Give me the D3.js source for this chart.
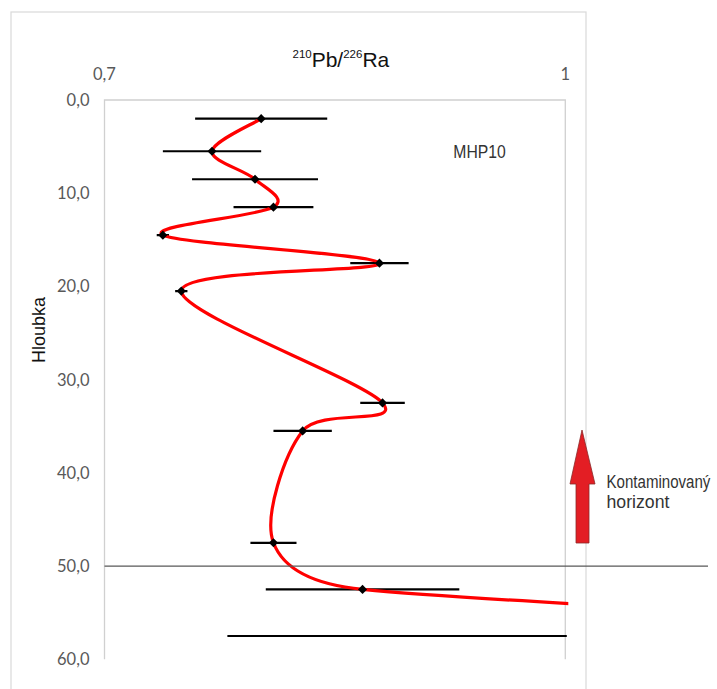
<!DOCTYPE html>
<html><head><meta charset="utf-8">
<script src="https://cdn.jsdelivr.net/npm/d3@7"></script>
<style>body{margin:0;background:#fff}svg{display:block}</style>
</head><body>
<svg id="c" width="717" height="689"></svg>
<script>
const depths = [2.0, 5.5, 8.5, 11.5, 14.5, 17.5, 20.5, 32.5, 35.5, 47.5, 52.5, 57.5];
const ratios = [0.802, 0.770, 0.798, 0.810, 0.738, 0.879, 0.750, 0.881, 0.829, 0.810, 0.868, 1.43];
const errors = [0.043, 0.032, 0.041, 0.026, 0.004, 0.019, 0.004, 0.0145, 0.019, 0.015, 0.063, 0.65];
const yTicks = [0, 10, 20, 30, 40, 50, 60];
const xTicks = [0.7, 1];
const sampleLabel = "MHP10";
const horizonDepth = 50;
const arrowLabel = ["Kontaminovaný", "horizont"];

const svg = d3.select("#c");
const L = 104.5, R = 565.3, T = 100, B = 659.3;
const x = d3.scaleLinear().domain([0.7, 1]).range([L, R]);
const y = d3.scaleLinear().domain([0, 60]).range([T, B]);

// Spreadsheet-style smoothing: Bezier with 1/6 tangents, capped at half the segment length
function curveSmooth(context) {
  let pts;
  return {
    areaStart() {}, areaEnd() {},
    lineStart() { pts = []; },
    point(px, py) { pts.push([+px, +py]); },
    lineEnd() {
      const n = pts.length;
      if (!n) return;
      context.moveTo(pts[0][0], pts[0][1]);
      for (let i = 0; i < n - 1; i++) {
        const p0 = pts[Math.max(i - 1, 0)], p1 = pts[i], p2 = pts[i + 1], p3 = pts[Math.min(i + 2, n - 1)];
        const d12 = Math.hypot(p2[0] - p1[0], p2[1] - p1[1]);
        const d02 = Math.hypot(p2[0] - p0[0], p2[1] - p0[1]);
        const d13 = Math.hypot(p3[0] - p1[0], p3[1] - p1[1]);
        let f1 = 1 / 6, f2 = 1 / 6;
        if (d02 * f1 > d12 / 2) f1 = d12 / (2 * d02);
        if (d13 * f2 > d12 / 2) f2 = d12 / (2 * d13);
        context.bezierCurveTo(
          p1[0] + f1 * (p2[0] - p0[0]), p1[1] + f1 * (p2[1] - p0[1]),
          p2[0] - f2 * (p3[0] - p1[0]), p2[1] - f2 * (p3[1] - p1[1]),
          p2[0], p2[1]);
      }
    }
  };
}

// outer chart frame
svg.append("rect").attr("x", 11).attr("y", 12).attr("width", 575).attr("height", 720)
  .attr("fill", "none").attr("stroke", "#d9d9d9").attr("stroke-width", 1.2);

// plot area border (left, top, right)
svg.append("path").attr("d", `M${L},${B}V${T}H${R}V${B}`)
  .attr("fill", "none").attr("stroke", "#d0d0d0").attr("stroke-width", 1.3);

// Y tick labels
const fmt = d => d.toFixed(1).replace(".", ",");
svg.append("g").selectAll("text").data(yTicks).join("text")
  .attr("x", 89.5).attr("y", d => y(d)).attr("dy", "0.36em")
  .attr("text-anchor", "end").attr("font-family", "Lato, 'Open Sans', sans-serif")
  .attr("font-size", 16.5).attr("fill", "#595959").text(fmt);

// X tick labels (top)
svg.append("g").selectAll("text").data(xTicks).join("text")
  .attr("x", d => x(d)).attr("y", 74).attr("dy", "0.36em")
  .attr("text-anchor", "middle").attr("font-family", "Lato, 'Open Sans', sans-serif")
  .attr("font-size", 16.5).attr("fill", "#595959").text(d => String(d).replace(".", ","));

// Title
const title = svg.append("text").attr("x", 292.5).attr("y", 66.7)
  .attr("font-family", "'Liberation Sans', Arial, sans-serif").attr("font-size", 21).attr("fill", "#111");
title.append("tspan").attr("font-size", 11.5).attr("dy", -9).text("210");
title.append("tspan").attr("dy", 9).text("Pb/");
title.append("tspan").attr("font-size", 11.5).attr("dy", -9).text("226");
title.append("tspan").attr("dy", 9).text("Ra");

// Y axis title
svg.append("text").attr("transform", "translate(45,330) rotate(-90)")
  .attr("text-anchor", "middle").attr("font-family", "'Liberation Sans', Arial, sans-serif")
  .attr("font-size", 18).attr("fill", "#111").text("Hloubka");

// clip
svg.append("clipPath").attr("id", "pc").append("rect")
  .attr("x", L).attr("y", T).attr("width", R - L + 3).attr("height", B - T);
const plot = svg.append("g").attr("clip-path", "url(#pc)");

const pts = depths.map((d, i) => ({d, v: ratios[i], e: errors[i]}));

// error bars
plot.append("g").selectAll("line").data(pts).join("line")
  .attr("x1", p => x(p.v - p.e)).attr("x2", p => Math.min(x(p.v + p.e), R + 1.5))
  .attr("y1", p => y(p.d)).attr("y2", p => y(p.d))
  .attr("stroke", "#000").attr("stroke-width", 2.2);

// smoothed line
const line = d3.line().x(p => x(p.v)).y(p => y(p.d)).curve(curveSmooth);
plot.append("path").attr("d", line(pts)).attr("fill", "none")
  .attr("stroke", "#ff0000").attr("stroke-width", 3.2);

// markers
plot.append("g").selectAll("path").data(pts).join("path")
  .attr("d", d3.symbol(d3.symbolSquare, 42)())
  .attr("transform", p => `translate(${x(p.v)},${y(p.d)}) rotate(45)`)
  .attr("fill", "#000");

// horizon line
svg.append("line").attr("x1", L).attr("x2", 708).attr("y1", y(horizonDepth)).attr("y2", y(horizonDepth))
  .attr("stroke", "#595959").attr("stroke-width", 1.1);

// narrow text helper: scales horizontally to a target width
function narrowText(txt, x0, y0, size, width) {
  const g = svg.append("g");
  const t = g.append("text").attr("x", 0).attr("y", 0)
    .attr("font-family", "'Liberation Sans', Arial, sans-serif")
    .attr("font-size", size).attr("fill", "#333").text(txt);
  const w = t.node().getComputedTextLength();
  g.attr("transform", `translate(${x0},${y0}) scale(${width / w},1)`);
}

// sample label
narrowText(sampleLabel, 453.3, 157.7, 18.5, 52.5);

// arrow
svg.append("path")
  .attr("d", "M582,430 L595,484 L589,484 L589,543 L576,543 L576,484 L570,484 Z")
  .attr("fill", "#e31e24").attr("stroke", "#8a2a2a").attr("stroke-width", 0.8);

const labW = [104, 63];
arrowLabel.forEach((s, i) => narrowText(s, 606.5, 488.3 + i * 20, 18.5, labW[i]));
</script>
</body></html>
